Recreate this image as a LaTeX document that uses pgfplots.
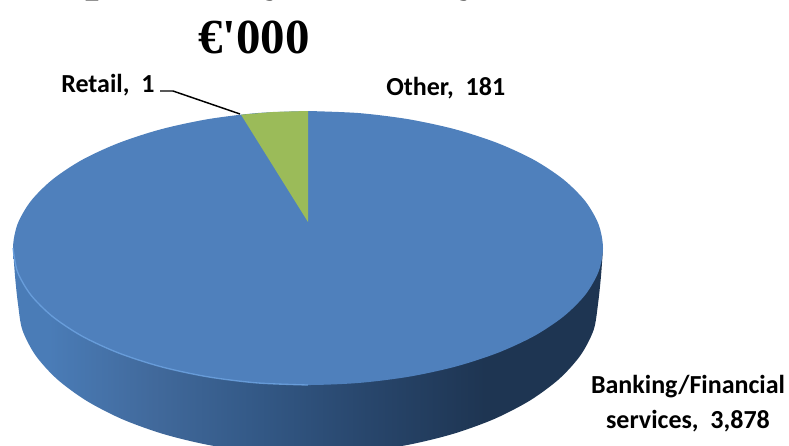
\documentclass[border=0pt]{standalone}
\usepackage{pgfplots}
\pgfplotsset{compat=1.18}
\usepackage{fontspec}
\setmainfont{Carlito}
\newfontfamily\titlefont{Liberation Serif}
\definecolor{sa}{HTML}{4A7CB7}
\definecolor{sb}{HTML}{41699B}
\definecolor{sc}{HTML}{345A88}
\definecolor{sd}{HTML}{28466C}
\definecolor{se}{HTML}{1E3552}
\definecolor{topblue}{HTML}{4F80BC}
\definecolor{othergreen}{HTML}{9BBB59}
\definecolor{rimlight}{HTML}{6FA5E3}
\pgfdeclarehorizontalshading{sideshade}{100bp}{
  color(0bp)=(sa);
  color(25bp)=(sa);
  color(28bp)=(sa);
  color(37bp)=(sb);
  color(45bp)=(sc);
  color(55bp)=(sd);
  color(65bp)=(se);
  color(75bp)=(se);
  color(100bp)=(se)}
\begin{document}
\begin{tikzpicture}[x=0.75pt,y=0.75pt]
\begin{axis}[
  at={(0,0)},anchor=south west,
  width=591.75pt,height=333.75pt,scale only axis,
  xmin=0,xmax=789,ymin=0,ymax=445,y dir=reverse,
  hide axis,clip=true]
% pie side
\addplot[forget plot,draw=none,smooth,shade,shading=sideshade,shading angle=0] coordinates {
(13,248)(15,276)(18,304)(22.4,330)(35.5,355.3)(56.9,379)(85.9,400.4)(121.6,418.9)(163,433.9)(208.8,445)(257.6,451.7)(308,454)(358.4,451.7)(407.2,445)(453,433.9)(494.4,418.9)(530.1,400.4)(559.1,379)(580.5,355.3)(593.6,330)(598,304)(601,276)(603,248)};
% top face: Banking/Financial services 3,878
\addplot[forget plot,draw=none,fill=topblue,smooth] coordinates {
(308,111)(359.2,113.1)(408.9,119.3)(455.5,129.4)(497.6,143.1)(534,159.9)(563.5,179.5)(585.2,201.1)(598.5,224.2)(603,248)(598.5,271.8)(585.2,294.9)(563.5,316.5)(534,336.1)(497.6,352.9)(455.5,366.6)(408.9,376.7)(359.2,382.9)(308,385)(256.8,382.9)(207.1,376.7)(160.5,366.6)(118.4,352.9)(82,336.1)(52.5,316.5)(30.8,294.9)(17.5,271.8)(13,248)(17.5,224.2)(30.8,201.1)(52.5,179.5)(82,159.9)(118.4,143.1)(160.5,129.4)(207.1,119.3)(256.8,113.1)(308,111)};
% rim highlight
\addplot[forget plot,draw=rimlight,line width=1pt,smooth,opacity=0.8] coordinates {
(13,248)(17.5,271.8)(30.8,294.9)(52.5,316.5)(82,336.1)(118.4,352.9)(160.5,366.6)(207.1,376.7)(256.8,382.9)(308,385)};
% Other 181 (Retail 1 is too thin to show)
\addplot[forget plot,draw=none,fill=othergreen] coordinates {
(308,222)(308,111)(274,111.9)(241,114.7)(308,222)};
% leader line
\addplot[forget plot,black,line width=1.1pt] coordinates {(160,91)(173,91)(240,114)};
\node[inner sep=0pt,font=\titlefont\bfseries\fontsize{36.7}{36.7}\selectfont,anchor=base] at (axis cs:256,-9.5) {Exposure by Industry};
\node[inner sep=0pt,font=\titlefont\bfseries\fontsize{36.7}{36.7}\selectfont,anchor=base] at (axis cs:254,53) {€'000};
\node[inner sep=0pt,font=\bfseries\fontsize{19.5}{19.5}\selectfont,anchor=base west] at (axis cs:61,92) {Retail,\ \ 1};
\node[inner sep=0pt,font=\bfseries\fontsize{19.5}{19.5}\selectfont,anchor=base west] at (axis cs:386,95) {Other,\ \ 181};
\node[inner sep=0pt,font=\bfseries\fontsize{19.5}{19.5}\selectfont,anchor=base] at (axis cs:688,393) {Banking/Financial};
\node[inner sep=0pt,font=\bfseries\fontsize{19.5}{19.5}\selectfont,anchor=base] at (axis cs:688,428) {services,\ \ 3,878};
\end{axis}
\useasboundingbox (0,0) rectangle (591.75pt,333.75pt);
\end{tikzpicture}
\end{document}
